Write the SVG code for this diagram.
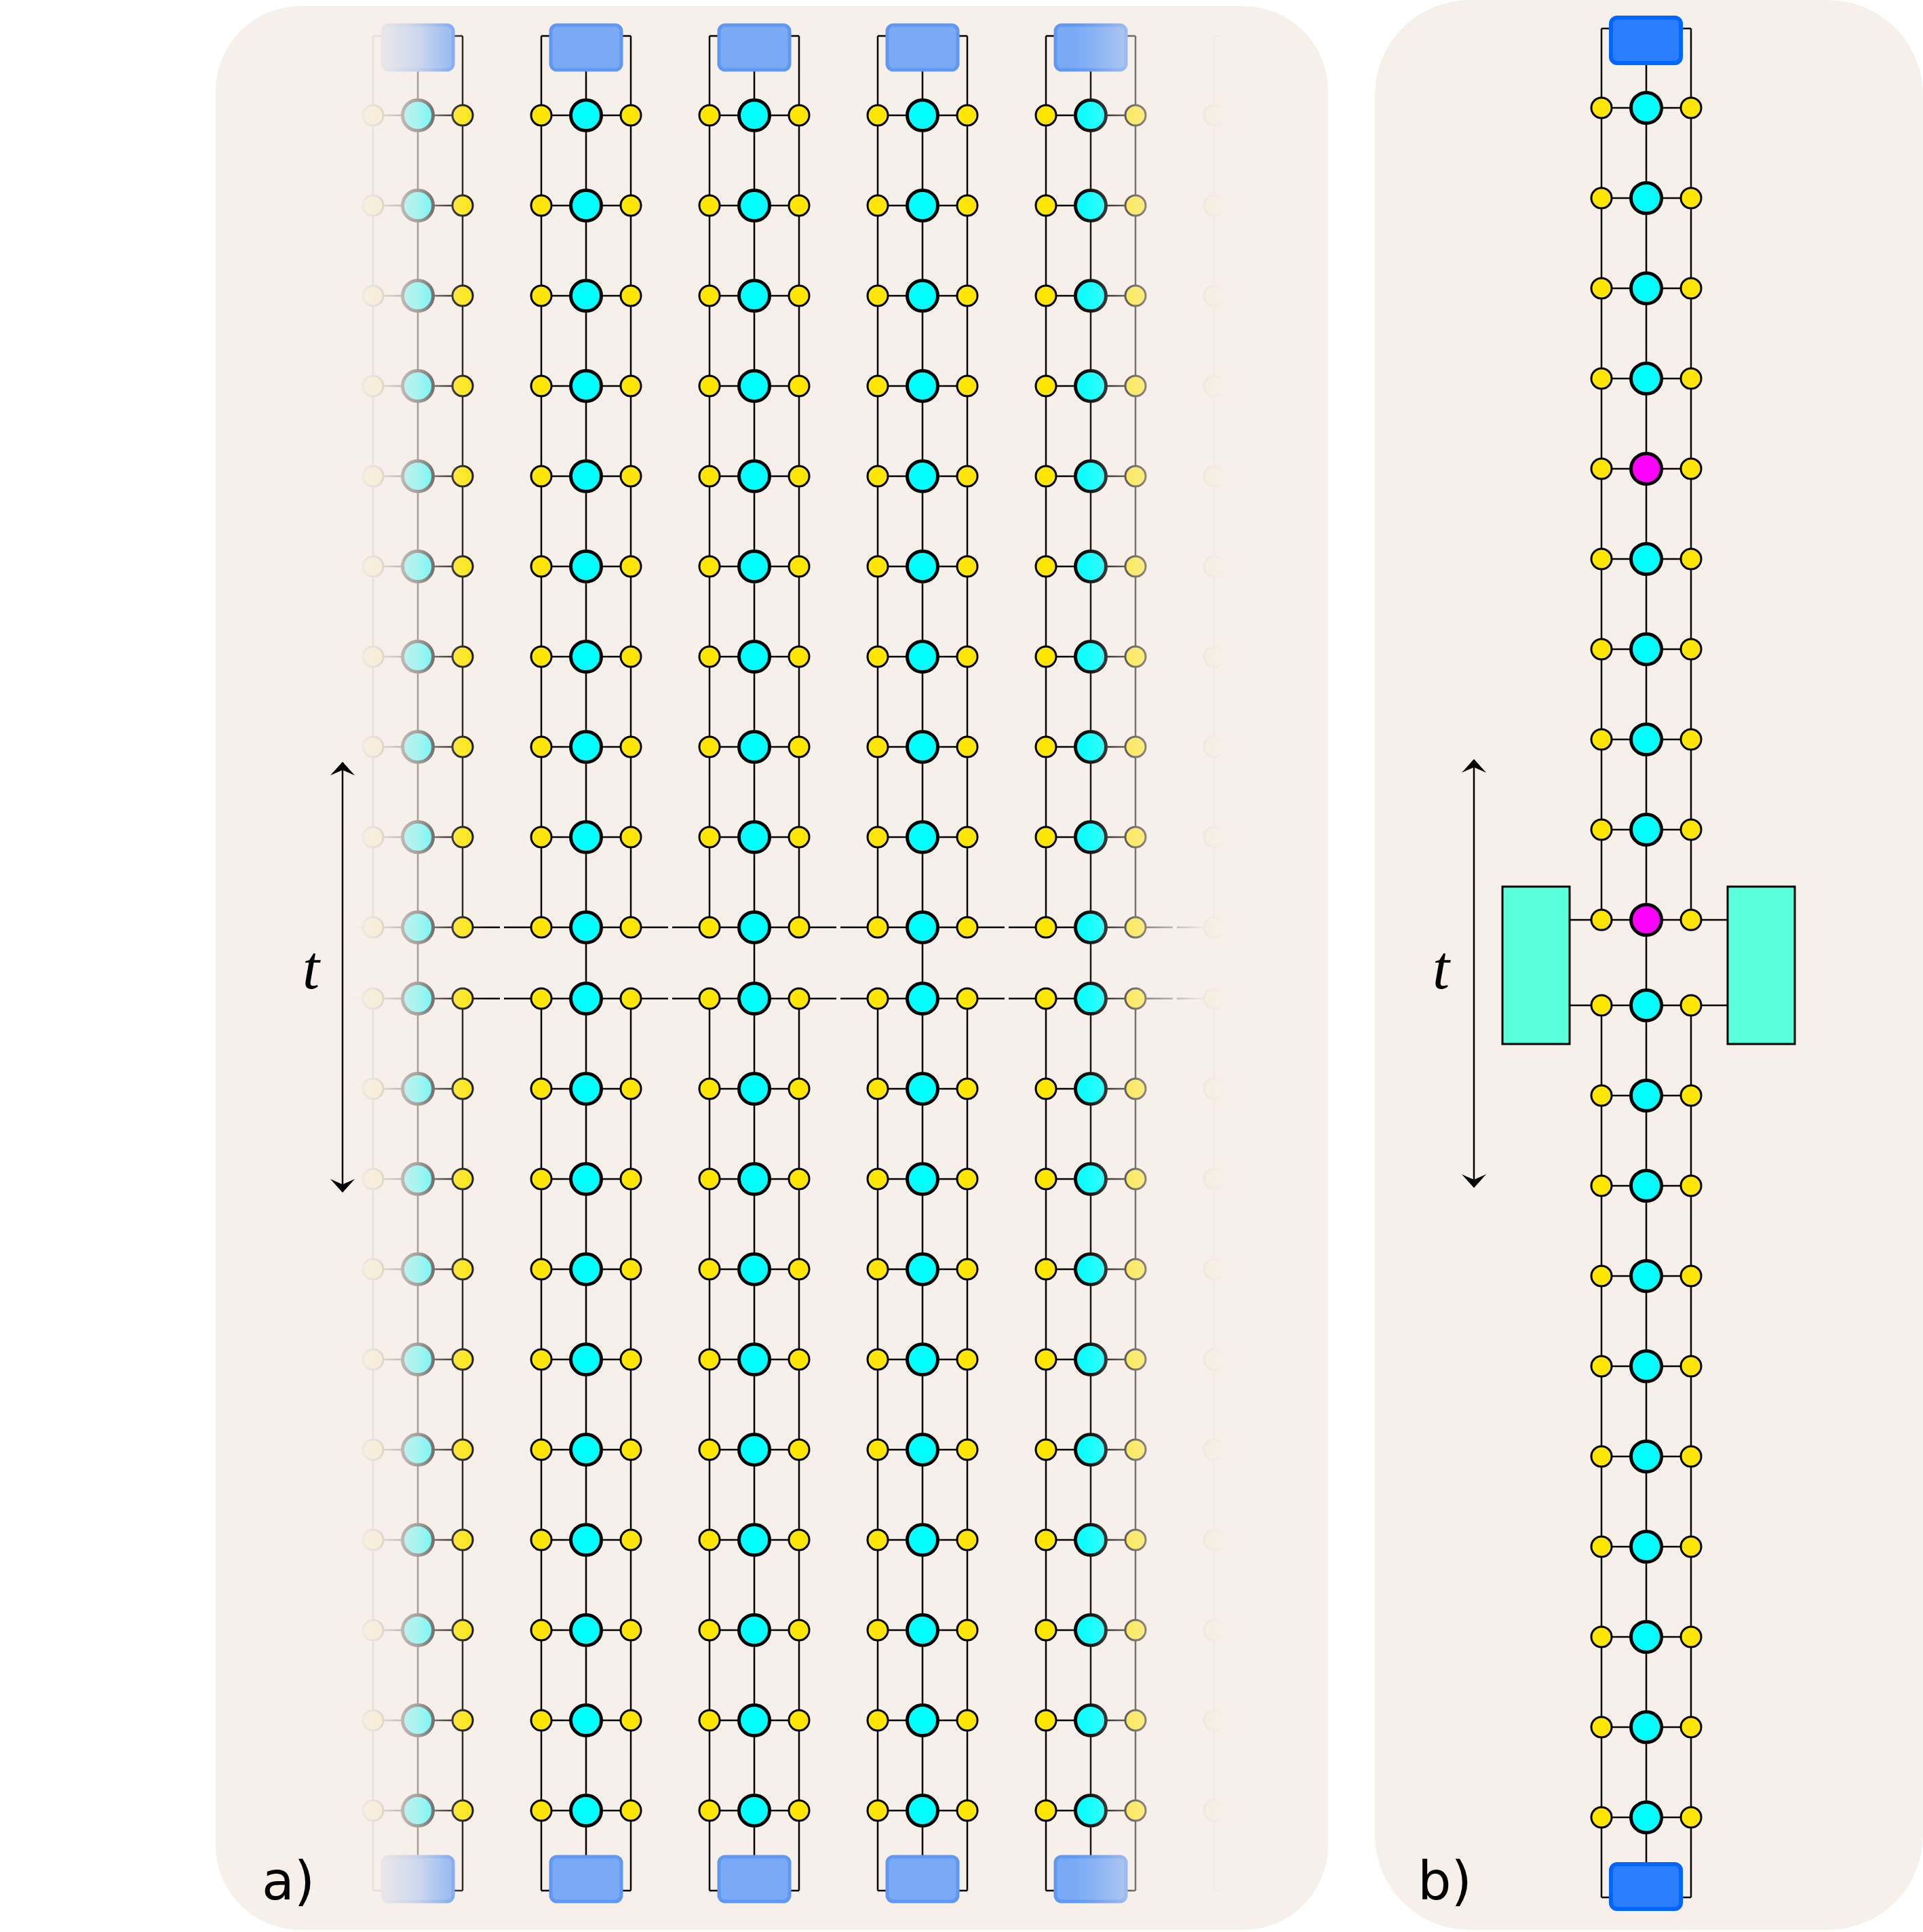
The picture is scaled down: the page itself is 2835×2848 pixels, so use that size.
<svg xmlns="http://www.w3.org/2000/svg" xmlns:xlink="http://www.w3.org/1999/xlink" width="2835" height="2848" viewBox="0 0 2835 2848">
<style>
.ln{stroke:#000;stroke-width:2.5;fill:none}
.y{fill:#ffe600;stroke:#000;stroke-width:3}
.c{fill:#00ffff;stroke:#000;stroke-width:5}
.m{fill:#ff00ff;stroke:#000;stroke-width:5}
.bA{fill:#7aaaf5;stroke:#5f97f2;stroke-width:5}
.bB{fill:#2b7fff;stroke:#0066ff;stroke-width:6}
.lbl{font-family:"DejaVu Sans",sans-serif;font-size:78px;fill:#000}
.t{font-family:"Liberation Serif",serif;font-style:italic;font-size:90px;fill:#000}
</style>
<defs>
<marker id="ah" viewBox="0 0 20 36" refX="19" refY="18" markerWidth="20" markerHeight="36" markerUnits="userSpaceOnUse" orient="auto-start-reverse">
<path d="M0,0 L20,18 L0,36 L8,18 Z" fill="#000"/>
</marker>
<g id="row"><line class="ln" x1="-66" y1="0" x2="66" y2="0"/><circle class="y" cx="-66" cy="0" r="15"/><circle class="c" cx="0" cy="0" r="22.5"/><circle class="y" cx="66" cy="0" r="15"/></g>
<g id="rowM"><line class="ln" x1="-66" y1="0" x2="66" y2="0"/><circle class="y" cx="-66" cy="0" r="15"/><circle class="m" cx="0" cy="0" r="22.5"/><circle class="y" cx="66" cy="0" r="15"/></g>
<g id="stackA">
<path class="ln" d="M-66,53H66M-66,53V1367M66,53V1367M-66,1472V2787M66,1472V2787M-66,2787H66M0,103V2737"/>
<rect class="bA" x="-52" y="37" width="104" height="66" rx="9"/>
<rect class="bA" x="-52" y="2737" width="104" height="66" rx="9"/>
<use href="#row" y="170"/><use href="#row" y="303"/><use href="#row" y="436"/><use href="#row" y="569"/><use href="#row" y="702"/><use href="#row" y="835"/><use href="#row" y="968"/><use href="#row" y="1101"/><use href="#row" y="1234"/><use href="#row" y="1367"/>
<use href="#row" y="1472"/><use href="#row" y="1605"/><use href="#row" y="1738"/><use href="#row" y="1871"/><use href="#row" y="2004"/><use href="#row" y="2137"/><use href="#row" y="2270"/><use href="#row" y="2403"/><use href="#row" y="2536"/><use href="#row" y="2669"/>
</g>
<linearGradient id="fadeX" gradientUnits="userSpaceOnUse" x1="318" y1="0" x2="1958" y2="0">
<stop offset="0" stop-color="#000"/>
<stop offset="0.122" stop-color="#000"/>
<stop offset="0.146" stop-color="#121212"/>
<stop offset="0.182" stop-color="#555"/>
<stop offset="0.208" stop-color="#b3b3b3"/>
<stop offset="0.245" stop-color="#fff"/>
<stop offset="0.770" stop-color="#fff"/>
<stop offset="0.787" stop-color="#e6e6e6"/>
<stop offset="0.829" stop-color="#808080"/>
<stop offset="0.885" stop-color="#0a0a0a"/>
<stop offset="0.91" stop-color="#000"/>
<stop offset="1" stop-color="#000"/>
</linearGradient>
<mask id="mA" maskUnits="userSpaceOnUse" x="0" y="0" width="2835" height="2848">
<rect x="0" y="0" width="2835" height="2848" fill="url(#fadeX)"/>
</mask>
</defs>
<rect x="318" y="9" width="1640" height="2836" rx="125" fill="#f7efe9"/>
<rect x="2027" y="0" width="808" height="2845" rx="140" fill="#f7efe9"/>
<g id="panelA" mask="url(#mA)">
<g id="links" class="ln">
<path d="M434,1367H489M495,1367H550M682,1367H737M743,1367H798M930,1367H985M991,1367H1046M1178,1367H1233M1239,1367H1294M1426,1367H1481M1487,1367H1542M1674,1367H1729M1735,1367H1790"/>
<path d="M434,1472H489M495,1472H550M682,1472H737M743,1472H798M930,1472H985M991,1472H1046M1178,1472H1233M1239,1472H1294M1426,1472H1481M1487,1472H1542M1674,1472H1729M1735,1472H1790"/>
</g>
<use id="col0" href="#stackA" x="368"/>
<use id="col1" href="#stackA" x="616"/>
<use id="col2" href="#stackA" x="864"/>
<use id="col3" href="#stackA" x="1112"/>
<use id="col4" href="#stackA" x="1360"/>
<use id="col5" href="#stackA" x="1608"/>
<use id="col6" href="#stackA" x="1856"/>
</g>
<g id="arrowA"><line class="ln" x1="505" y1="1440" x2="505" y2="1124" marker-end="url(#ah)"/><line class="ln" x1="505" y1="1440" x2="505" y2="1757" marker-end="url(#ah)"/></g>
<text class="t" x="446" y="1457">t</text>
<text class="lbl" x="386" y="2800">a)</text>
<g id="panelB">
<g id="connB">
<path class="ln" d="M2361,42H2493M2361,42V1356M2493,42V1356M2361,1482V2797M2493,1482V2797M2361,2797H2493M2427,93V2748M2314,1356H2361M2493,1356H2547M2314,1482H2361M2493,1482H2547"/>
</g>
<rect id="topB" class="bB" x="2375" y="26" width="103" height="67" rx="9"/>
<rect id="botB" class="bB" x="2375" y="2748" width="103" height="66" rx="9"/>
<rect id="envL" x="2215" y="1307" width="99" height="232" fill="#5affdc" stroke="#000" stroke-width="3"/>
<rect id="envR" x="2547" y="1307" width="99" height="232" fill="#5affdc" stroke="#000" stroke-width="3"/>
<g transform="translate(2427,0)">
<use id="b1" href="#row" y="159"/><use id="b2" href="#row" y="292"/><use id="b3" href="#row" y="425"/><use id="b4" href="#row" y="558"/><use id="b5" href="#rowM" y="691"/><use id="b6" href="#row" y="824"/><use id="b7" href="#row" y="957"/><use id="b8" href="#row" y="1090"/><use id="b9" href="#row" y="1223"/><use id="b10" href="#rowM" y="1356"/>
<use id="b11" href="#row" y="1482"/><use id="b12" href="#row" y="1615"/><use id="b13" href="#row" y="1748"/><use id="b14" href="#row" y="1881"/><use id="b15" href="#row" y="2014"/><use id="b16" href="#row" y="2147"/><use id="b17" href="#row" y="2280"/><use id="b18" href="#row" y="2413"/><use id="b19" href="#row" y="2546"/><use id="b20" href="#row" y="2679"/>
</g>
</g>
<g id="arrowB"><line class="ln" x1="2173" y1="1435" x2="2173" y2="1120" marker-end="url(#ah)"/><line class="ln" x1="2173" y1="1435" x2="2173" y2="1750" marker-end="url(#ah)"/></g>
<text class="t" x="2112" y="1457">t</text>
<text class="lbl" x="2090" y="2800">b)</text>
</svg>
